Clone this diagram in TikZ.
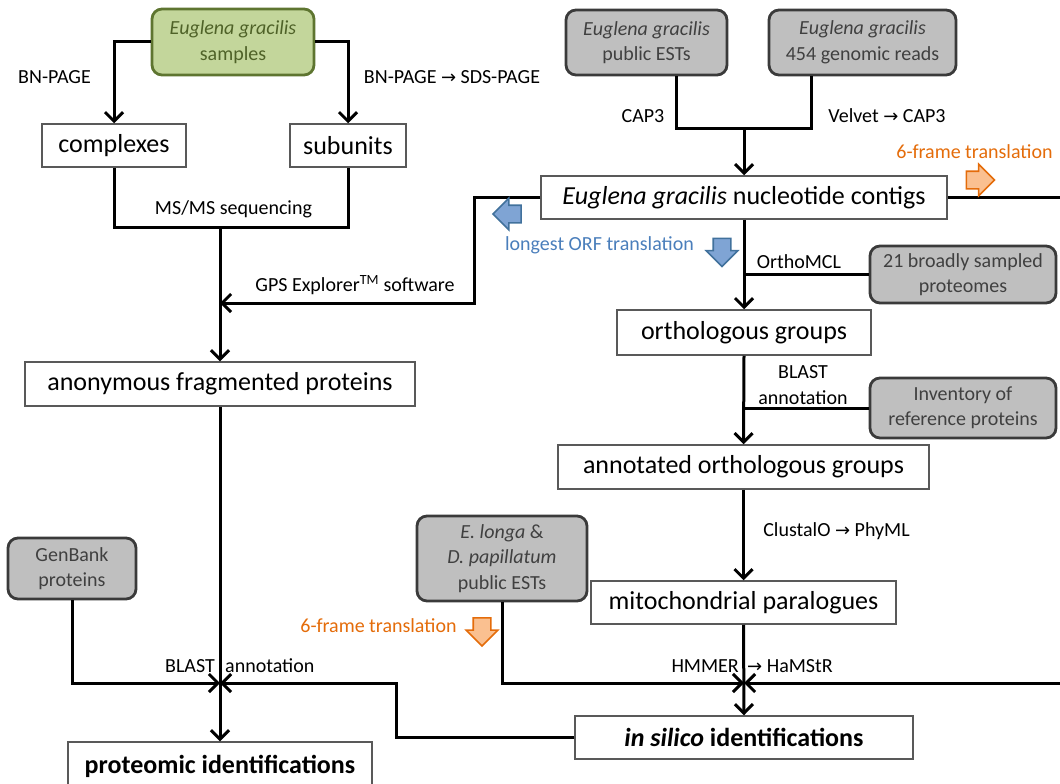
\documentclass[tikz,border=0pt]{standalone}
\usepackage{fontspec}
\setmainfont{Carlito}
\newfontfamily\dejavu{DejaVu Sans}
\usetikzlibrary{arrows.meta,shapes.arrows,calc}
\definecolor{gfill}{HTML}{BFBFBF}
\definecolor{gdraw}{HTML}{3A3A3A}
\definecolor{gtext}{HTML}{404040}
\definecolor{wdraw}{HTML}{595959}
\definecolor{grnfill}{HTML}{C3D69B}
\definecolor{grndraw}{HTML}{5E7530}
\definecolor{grntext}{HTML}{4F6228}
\definecolor{orgtext}{HTML}{E46C0A}
\definecolor{orgfill}{HTML}{FAC090}
\definecolor{blutext}{HTML}{4A7EBB}
\definecolor{blufill}{HTML}{7FA4D4}
\definecolor{bludraw}{HTML}{41719C}
\newcommand{\myarrow}{{\dejavu\fontsize{18}{20}\selectfont →}}
\tikzset{
  wbox/.style={draw=wdraw, line width=1.5pt, fill=white, inner sep=0pt, align=center,
    font=\fontsize{26}{30}\selectfont},
  gbox/.style={draw=gdraw, line width=2.8pt, fill=gfill, rounded corners=10pt, inner sep=0pt,
    align=center, text=gtext, font=\fontsize{20}{25.5}\selectfont},
  grnbox/.style={draw=grndraw, line width=2.8pt, fill=grnfill, rounded corners=10pt, inner sep=0pt,
    align=center, text=grntext, font=\fontsize{20}{26}\selectfont},
  lbl/.style={inner sep=0pt, align=center, font=\fontsize{20}{26}\selectfont},
  conn/.style={line width=3pt, draw=black},
  arr/.style={conn, -{Straight Barb[length=9pt,width=18pt]}},
  blk/.style={single arrow, minimum height=28pt, minimum width=30pt, single arrow head extend=7pt,
    inner sep=8pt, line width=1.6pt},
  oblk/.style={blk, fill=orgfill, draw=orgtext},
  bblk/.style={blk, fill=blufill, draw=bludraw}
}
\begin{document}
\begin{tikzpicture}[x=1pt,y=-1pt]
\useasboundingbox (0,0) rectangle (1060,784);
% ---- left column
\node[grnbox, minimum width=162pt, minimum height=66pt] (samples) at (233,42) {\textit{Euglena gracilis}\\samples};
\node[wbox, minimum width=144pt, minimum height=43pt] (complexes) at (114,145.5) {complexes};
\node[wbox, minimum width=116pt, minimum height=43pt] (subunits) at (348,145.5) {subunits};
\node[wbox, minimum width=390pt, minimum height=44pt] (anon) at (220,384) {anonymous fragmented proteins};
\node[gbox, minimum width=128pt, minimum height=61pt] (genbank) at (72,568.5) {GenBank\\proteins};
\node[wbox, minimum width=304pt, minimum height=48pt, font=\fontsize{26}{30}\selectfont\bfseries] (prot) at (220,766) {proteomic identifications};
% ---- right column
\node[gbox, minimum width=161pt, minimum height=65pt] (ests) at (646.5,42.5) {\textit{Euglena gracilis}\\public ESTs};
\node[gbox, minimum width=187pt, minimum height=65pt] (reads) at (862.5,42.5) {\textit{Euglena gracilis}\\454 genomic reads};
\node[wbox, minimum width=406pt, minimum height=43pt] (contigs) at (744,197.5) {\textit{Euglena gracilis} nucleotide contigs};
\node[gbox, minimum width=186pt, minimum height=57pt] (p21) at (963,274.5) {21 broadly sampled\\proteomes};
\node[wbox, minimum width=254pt, minimum height=45pt] (orth) at (744,332.5) {orthologous groups};
\node[gbox, minimum width=186pt, minimum height=60pt] (inv) at (963,408) {Inventory of\\reference proteins};
\node[wbox, minimum width=371pt, minimum height=44pt] (annot) at (743.5,467) {annotated orthologous groups};
\node[gbox, minimum width=170pt, minimum height=85pt] (elonga) at (502,558.5) {\textit{E. longa} \&\\\textit{D. papillatum}\\public ESTs};
\node[wbox, minimum width=305pt, minimum height=43pt] (mito) at (743.5,602.5) {mitochondrial paralogues};
\node[wbox, minimum width=338pt, minimum height=43pt, font=\fontsize{26}{30}\selectfont\bfseries] (insilico) at (744,737.5) {\textit{in silico} identifications};
% ---- coordinates
\coordinate (ms) at (220,227);
\coordinate (gpsc) at (474,303);
\coordinate (gps) at (220,303);
\coordinate (capL) at (676,128);
\coordinate (capM) at (744,128);
\coordinate (capR) at (811,128);
\coordinate (re1) at (1060,197.5);
\coordinate (re2) at (1060,683);
\coordinate (hm) at (744,683);
\coordinate (bl) at (220,683);
\coordinate (bl2) at (396,683);
% ---- connectors
\draw[arr] (samples.west) -| (complexes.north);
\draw[arr] (samples.east) -| (subunits.north);
\draw[conn] (complexes.south) |- (ms) -| (subunits.south);
\draw[arr] (ms) -- (anon.north);
\draw[arr] (contigs.west) -| (gpsc) -- (gps);
\draw[arr] (anon.south) -- (prot.north);
\draw[arr] (genbank.south) |- (bl);
\draw[arr] (insilico.west) -| (bl2) -- (bl);
\draw[conn] (capL |- ests.south) -- (capL) -- (capR) -- (capR |- reads.south);
\draw[arr] (capM) -- (contigs.north);
\draw[conn] (contigs.east) -- (re1);
\draw[arr] (contigs.south) -- (orth.north);
\draw[conn] (p21.west) -- (p21.west -| contigs.south);
\draw[arr] (orth.south) -- (annot.north);
\draw[conn] (inv.west) -- (inv.west -| orth.south);
\draw[arr] (annot.south) -- (mito.north);
\draw[arr] (mito.south) -- (insilico.north);
\draw[arr] (elonga.south) |- (hm);
\draw[arr] (re2) -- (hm);
% ---- labels
\node[lbl] (l1) at (54.5,77) {BN-PAGE};
\node[lbl] (l2) at (452,77) {BN-PAGE \myarrow{} SDS-PAGE};
\node[lbl] (l3) at (233.5,209) {MS/MS sequencing};
\node[lbl] (l4) at (355,285) {GPS Explorer\textsuperscript{TM} software};
\node[lbl] (l5) at (643,116) {CAP3};
\node[lbl] (l6) at (887,116) {Velvet \myarrow{} CAP3};
\node[lbl, text=orgtext] (l7) at (974.5,152) {6-frame translation};
\node[lbl, text=blutext] (l8) at (599.5,245) {longest ORF translation};
\node[lbl] (l9) at (799,262) {OrthoMCL};
\node[lbl] (l10) at (803,385) {BLAST\\annotation};
\node[lbl] (l11) at (836.5,531) {ClustalO \myarrow{} PhyML};
\node[lbl, anchor=east] (l12) at (739,666) {HMMER};
\node[lbl, anchor=west] (l13) at (747,666) {\myarrow{} HaMStR};
\node[lbl, anchor=east] (l14) at (215,666) {BLAST};
\node[lbl, anchor=west] (l15) at (225,666) {annotation};
\node[lbl, text=orgtext] (l16) at (378.5,626) {6-frame translation};
% ---- block arrows
\node[oblk] (a1) at (976,180) {};
\node[bblk, shape border rotate=180] (a2) at (511.5,214) {};
\node[bblk, shape border rotate=270] (a3) at (722,248) {};
\node[oblk, shape border rotate=270] (a4) at (482,627.5) {};
\end{tikzpicture}
\end{document}
